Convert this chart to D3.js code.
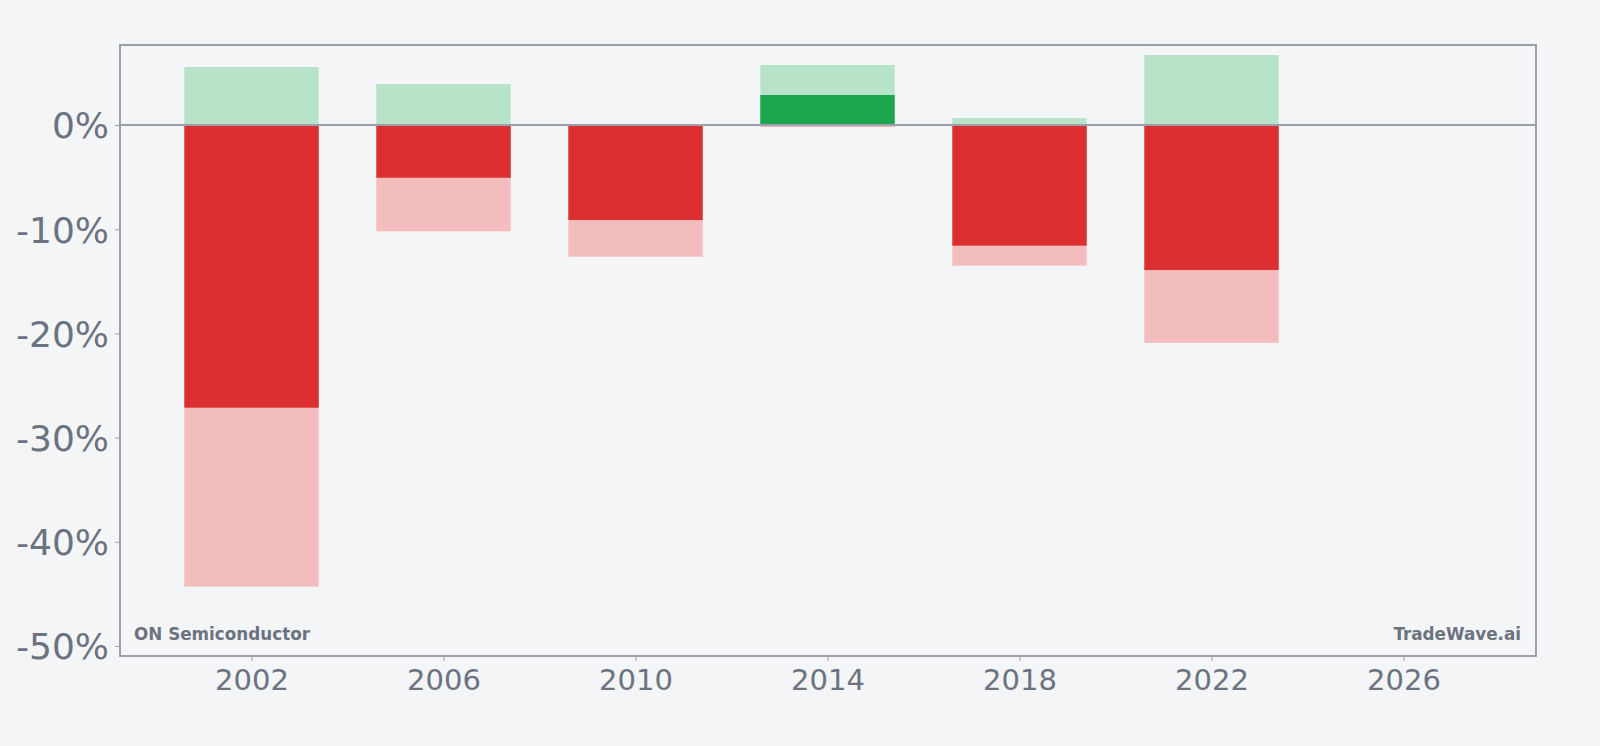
<!DOCTYPE html>
<html>
<head>
<meta charset="utf-8">
<script src="https://cdn.jsdelivr.net/npm/d3@7"></script>
<style>
  html, body { margin: 0; padding: 0; background: #f4f5f7; }
  svg { display: block; }
  text { font-family: "DejaVu Sans", sans-serif; fill: #6b7280; }
</style>
</head>
<body>
<svg width="1600" height="746"></svg>
<script>
// one bar every four years
var years    = [2002, 2006, 2010, 2014, 2018, 2022];
var maxUp    = [0.0557, 0.0393, 0.0, 0.0576, 0.0067, 0.0672];   // light green
var maxDown  = [-0.443, -0.102, -0.1264, -0.002, -0.135, -0.209]; // light red
var yearRet  = [-0.2713, -0.0506, -0.0912, 0.0288, -0.1158, -0.1392]; // dark bar
var xTicks   = [2002, 2006, 2010, 2014, 2018, 2022, 2026];
var yTicks   = [0, -0.1, -0.2, -0.3, -0.4, -0.5];
var company  = "ON Semiconductor";
var brand    = "TradeWave.ai";

var svg = d3.select("svg");
var pLeft = 120, pRight = 1536, pTop = 45, pBottom = 656;

var x = d3.scaleLinear().domain([1999.26, 2028.76]).range([pLeft, pRight]);
var y = d3.scaleLinear().domain([-0.5096, 0.0768]).range([pBottom, pTop]);
var barW = x(2002 + 1.4) - x(2002 - 1.4);

var data = years.map(function(d, i) {
  return { year: d, up: maxUp[i], down: maxDown[i], ret: yearRet[i] };
});

var g = svg.append("g");

function bars(cls, v, color) {
  g.selectAll("." + cls)
    .data(data.filter(function(d) { return v(d) !== 0; }))
    .enter().append("rect")
      .attr("class", cls)
      .attr("x", function(d) { return x(d.year) - barW / 2; })
      .attr("width", barW)
      .attr("y", function(d) { return y(Math.max(0, v(d))); })
      .attr("height", function(d) { return Math.abs(y(v(d)) - y(0)); })
      .attr("fill", color);
}

bars("up", function(d) { return d.up; }, "#b7e3c8");
bars("down", function(d) { return d.down; }, "#f3bdbd");
bars("ret", function(d) { return d.ret; }, function(d) { return d.ret >= 0 ? "#1ea64f" : "#dc2f2f"; });

// zero line
svg.append("line")
  .attr("x1", pLeft).attr("x2", pRight)
  .attr("y1", y(0)).attr("y2", y(0))
  .attr("stroke", "#9ca0ad").attr("stroke-width", 2);

// axes
var yAxis = svg.append("g")
  .attr("transform", "translate(" + pLeft + ",0)")
  .call(d3.axisLeft(y).tickValues(yTicks).tickSize(5).tickPadding(6)
    .tickFormat(function(d) { return Math.round(d * 100) + "%"; }));
yAxis.select(".domain").remove();
yAxis.selectAll("line").attr("stroke", "#9ca0ad");
yAxis.selectAll("text").attr("font-size", 36).attr("fill", "#6b7280")
  .attr("font-family", "DejaVu Sans").attr("dy", "0.36em");

var xAxis = svg.append("g")
  .attr("transform", "translate(0," + pBottom + ")")
  .call(d3.axisBottom(x).tickValues(xTicks).tickSize(5).tickPadding(8)
    .tickFormat(d3.format("d")));
xAxis.select(".domain").remove();
xAxis.selectAll("line").attr("stroke", "#9ca0ad");
xAxis.selectAll("text").attr("font-size", 29).attr("fill", "#6b7280")
  .attr("font-family", "DejaVu Sans");

// frame
svg.append("rect")
  .attr("x", pLeft).attr("y", pTop)
  .attr("width", pRight - pLeft).attr("height", pBottom - pTop)
  .attr("fill", "none").attr("stroke", "#9ca0ad").attr("stroke-width", 2);

svg.append("text")
  .attr("x", pLeft + 14).attr("y", 640)
  .attr("font-size", 16.8).attr("font-weight", "bold")
  .text(company);

svg.append("text")
  .attr("x", pRight - 15).attr("y", 640)
  .attr("text-anchor", "end")
  .attr("font-size", 16.8).attr("font-weight", "bold")
  .text(brand);
</script>
</body>
</html>
